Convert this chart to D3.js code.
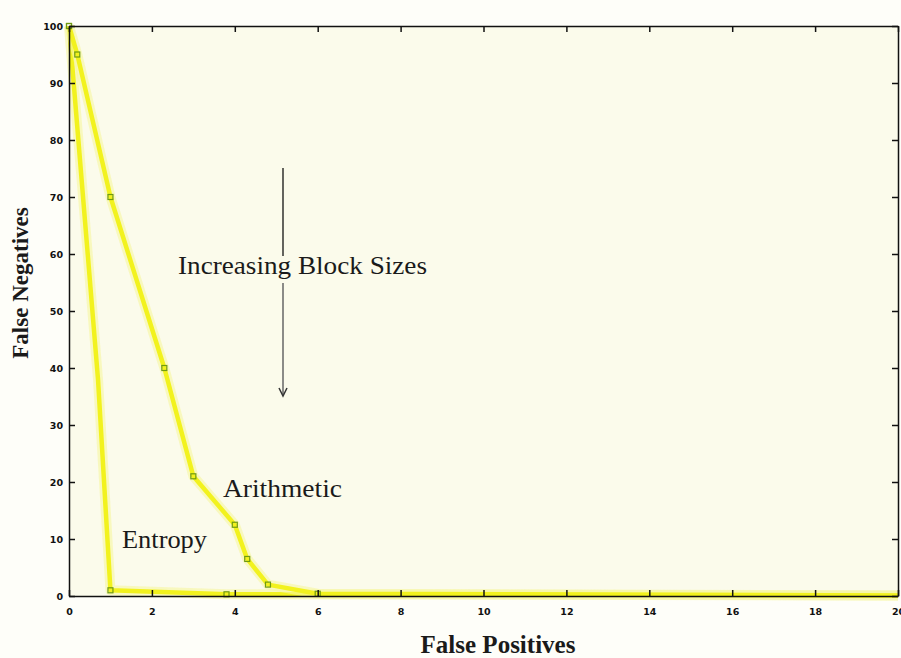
<!DOCTYPE html>
<html>
<head>
<meta charset="utf-8">
<script src="https://cdn.jsdelivr.net/npm/d3@7"></script>
<style>
  body { margin: 0; background: #fefef9; }
  .tick text { font-family: "DejaVu Sans", sans-serif; font-size: 9.5px; font-weight: bold; fill: #111; }
  .serif { font-family: "Liberation Serif", "DejaVu Serif", serif; fill: #1a1a1a; }
</style>
</head>
<body>
<div id="chart"></div>
<script>
// Data
var xTicks = [0, 2, 4, 6, 8, 10, 12, 14, 16, 18, 20];
var yTicks = [0, 10, 20, 30, 40, 50, 60, 70, 80, 90, 100];
var arithX = [0, 0.2, 1, 2.3, 3, 4, 4.3, 4.8, 6, 20];
var arithY = [100, 95, 70, 40, 21, 12.5, 6.5, 2, 0.4, 0.1];
var entropyX = [0, 0.7, 1, 3.8, 20];
var entropyY = [100, 38, 1, 0.3, 0.1];
// which points carry a marker
var arithMarks = [0, 1, 2, 3, 4, 5, 6, 7, 8];
var entropyMarks = [0, 2, 3];

// Base chart space
var W = 901, H = 658;
var margin = {top: 26, right: 3, bottom: 62, left: 69},
width = W - margin.left - margin.right,
height = H - margin.top - margin.bottom;

var chart = d3.select('#chart').append('svg')
    .attr('width', W)
    .attr('height', H);
chart.append('rect').attr('width', W).attr('height', H).style('fill', '#fefef9');

var g = chart.append('g')
    .attr('transform', 'translate(' + margin.left + ',' + margin.top + ')');

g.append('rect')
    .attr('width', width)
    .attr('height', height)
    .style('fill', '#fbfbeb');

var xScale = d3.scaleLinear().domain([0, 20]).range([0, width]);
var yScale = d3.scaleLinear().domain([0, 100]).range([height, 0]);

// Lines
var line = d3.line()
    .x(function(d) { return xScale(d[0]); })
    .y(function(d) { return yScale(d[1]); });

function series(xs, ys) {
    return xs.map(function(x, i) { return [x, ys[i]]; });
}
var arith = series(arithX, arithY);
var entropy = series(entropyX, entropyY);

[entropy, arith].forEach(function(s) {
    // soft glow
    g.append('path')
        .datum(s)
        .attr('d', line)
        .style('fill', 'none')
        .style('stroke', '#f6f6a0')
        .style('stroke-width', 10)
        .style('stroke-linejoin', 'round')
        .style('opacity', 0.6);
    g.append('path')
        .datum(s)
        .attr('d', line)
        .style('fill', 'none')
        .style('stroke', '#f2f21e')
        .style('stroke-width', 4.5)
        .style('stroke-linejoin', 'round');
});

// Markers
var marks = arithMarks.map(function(i) { return arith[i]; })
    .concat(entropyMarks.map(function(i) { return entropy[i]; }));
g.selectAll('.mark')
    .data(marks)
    .enter()
    .append('rect')
    .attr('class', 'mark')
    .attr('x', function(d) { return xScale(d[0]) - 2.5; })
    .attr('y', function(d) { return yScale(d[1]) - 2.5; })
    .attr('width', 5)
    .attr('height', 5)
    .style('fill', 'none')
    .style('stroke', '#6f9a10')
    .style('stroke-width', 1.2);

// Axes (box with inward ticks)
var xb = g.append('g')
    .attr('transform', 'translate(0,' + height + ')')
    .call(d3.axisBottom(xScale).tickValues(xTicks).tickSizeInner(-6).tickSizeOuter(0).tickPadding(10));
var yl = g.append('g')
    .call(d3.axisLeft(yScale).tickValues(yTicks).tickSizeInner(-6).tickSizeOuter(0).tickPadding(6));
var xt = g.append('g')
    .call(d3.axisTop(xScale).tickValues(xTicks).tickSizeInner(-6).tickSizeOuter(0).tickFormat(''));
var yr = g.append('g')
    .attr('transform', 'translate(' + width + ',0)')
    .call(d3.axisRight(yScale).tickValues(yTicks).tickSizeInner(-6).tickSizeOuter(0).tickFormat(''));
[xb, yl, xt, yr].forEach(function(a) {
    a.selectAll('path, line').style('stroke', '#111').style('stroke-width', 1.5);
});
xb.selectAll('.tick text').attr('dy', '0.9em');

// Annotations
function label(txt, x, y, len) {
    chart.append('text')
        .attr('class', 'serif')
        .text(txt)
        .attr('x', x)
        .attr('y', y)
        .attr('font-size', '25px')
        .attr('textLength', len)
        .attr('lengthAdjust', 'spacingAndGlyphs');
}
label('Increasing Block Sizes', 178, 274, 249);
label('Arithmetic', 223, 497, 119);
label('Entropy', 122, 548, 85);

chart.append('line')
    .attr('x1', 283).attr('x2', 283)
    .attr('y1', 168).attr('y2', 256)
    .style('stroke', '#111').style('stroke-width', 1.3);
chart.append('line')
    .attr('x1', 283).attr('x2', 283)
    .attr('y1', 283).attr('y2', 394)
    .style('stroke', '#666').style('stroke-width', 1.5);
chart.append('path')
    .attr('d', 'M279,388 L283,396 L287,388')
    .style('fill', 'none')
    .style('stroke', '#333')
    .style('stroke-width', 1.5);

// Axis titles
chart.append('text')
    .attr('class', 'serif')
    .text('False Positives')
    .attr('text-anchor', 'middle')
    .attr('x', 498)
    .attr('y', 653)
    .attr('font-size', '25px')
    .attr('font-weight', 'bold');

chart.append('text')
    .attr('class', 'serif')
    .text('False Negatives')
    .attr('text-anchor', 'middle')
    .attr('font-size', '23px')
    .attr('font-weight', 'bold')
    .attr('transform', 'translate(28,283)rotate(-90)');
</script>
</body>
</html>
